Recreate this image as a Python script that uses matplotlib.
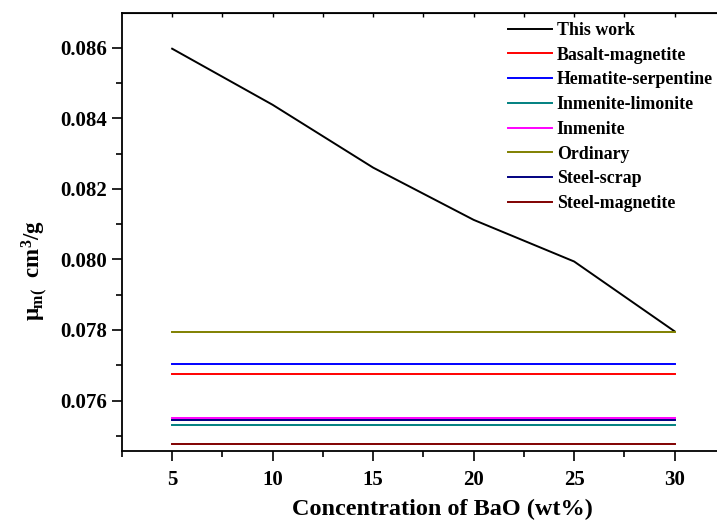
import numpy as np
import matplotlib
matplotlib.use('Agg')
import matplotlib.pyplot as plt
from matplotlib.ticker import MultipleLocator

plt.rcParams['font.family'] = 'Liberation Serif'
plt.rcParams['font.weight'] = 'bold'
plt.rcParams['mathtext.fontset'] = 'custom'
plt.rcParams['mathtext.rm'] = 'Liberation Serif:bold'
plt.rcParams['mathtext.it'] = 'Liberation Serif:bold'
plt.rcParams['mathtext.bf'] = 'Liberation Serif:bold'

# BaO concentration (wt%)
bao = [5, 10, 15, 20, 25, 30]
this_work = [0.08597, 0.08438, 0.08260, 0.08112, 0.07994, 0.07796]

# reference concretes (constant over the range)
concretes = ['Basalt-magnetite', 'Hematite-serpentine', 'Inmenite-limonite',
             'Inmenite', 'Ordinary', 'Steel-scrap', 'Steel-magnetite']
concrete_mu = [0.07675, 0.07703, 0.07530, 0.07551, 0.07794, 0.07545, 0.07476]
colors = ['#ff0000', '#0000ff', '#008080', '#ff00ff', '#808000', '#000080', '#800000']

fig = plt.figure(figsize=(7.17, 5.22), dpi=100)
ax = fig.add_axes([0.170, 0.136, 0.841, 0.839])

ax.plot(bao, this_work, color='black', lw=1.4, label='This work')
for name, mu, c in zip(concretes, concrete_mu, colors):
    ax.plot(bao, [mu] * len(bao), color=c, lw=1.4, label=name)

ax.set_xlim(2.5, 32.5)
ax.set_ylim(0.07457, 0.08698)
ax.xaxis.set_major_locator(MultipleLocator(5))
ax.xaxis.set_minor_locator(MultipleLocator(2.5))
ax.yaxis.set_major_locator(MultipleLocator(0.002))
ax.yaxis.set_minor_locator(MultipleLocator(0.001))
ax.yaxis.set_major_formatter(matplotlib.ticker.FormatStrFormatter('%.3f'))
ax.tick_params(which='major', direction='out', length=7, width=1.2, labelsize=15)
ax.tick_params(which='minor', direction='out', length=4, width=1.2)
ax.tick_params(axis='x', pad=7)
ax.spines['right'].set_visible(False)
for s in ['left', 'bottom', 'top']:
    ax.spines[s].set_linewidth(1.3)

top = ax.secondary_xaxis('top')
top.set_xticks(np.arange(5, 32.5, 2.5))
top.tick_params(direction='in', length=3, width=1.0, labeltop=False)

ax.set_xlabel('Concentration of BaO (wt%)', fontsize=17.5, fontweight='bold')
ax.xaxis.set_label_coords(0.531, -0.109)
ax.set_ylabel(r'$\mu_{m(}$  cm$^3$/g', fontsize=16.5, fontweight='bold')
ax.yaxis.set_label_coords(-0.119, 0.413)

ax.legend(loc='upper right', bbox_to_anchor=(0.9935, 0.998), frameon=False,
          prop={'weight': 'bold', 'size': 12.9}, handlelength=2.5,
          handletextpad=0.25, labelspacing=0.43, borderaxespad=0.05)

fig.savefig('out.png', dpi=100)
